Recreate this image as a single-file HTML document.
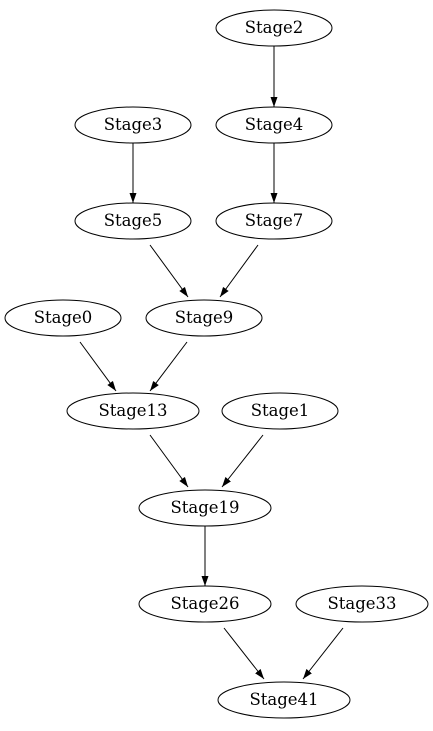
<!DOCTYPE html>
<html><head><meta charset="utf-8"><style>html,body{margin:0;padding:0;background:#fff;}svg{display:block}</style></head>
<body>
<svg width="433" height="731" viewBox="0 0 433 731" xmlns="http://www.w3.org/2000/svg">
<defs>
<marker id="a" markerWidth="10" markerHeight="7" refX="10" refY="3.5" orient="auto" markerUnits="userSpaceOnUse">
<polygon points="0,0 10,3.5 0,7" fill="#000"/>
</marker>
</defs>
<g fill="none" stroke="#000" stroke-width="1">
<ellipse cx="274" cy="28" rx="58" ry="18"/>
<ellipse cx="133" cy="125" rx="58" ry="18"/>
<ellipse cx="274" cy="125" rx="58" ry="18"/>
<ellipse cx="133" cy="221" rx="58" ry="18"/>
<ellipse cx="274" cy="221" rx="58" ry="18"/>
<ellipse cx="63" cy="318" rx="58" ry="18"/>
<ellipse cx="204" cy="318" rx="58" ry="18"/>
<ellipse cx="133" cy="411" rx="66" ry="18"/>
<ellipse cx="280" cy="411" rx="58" ry="18"/>
<ellipse cx="205" cy="508" rx="66" ry="18"/>
<ellipse cx="205" cy="604" rx="66" ry="18"/>
<ellipse cx="362" cy="604" rx="66" ry="18"/>
<ellipse cx="284" cy="700" rx="66" ry="18"/>
<g marker-end="url(#a)">
<line x1="274" y1="46" x2="274" y2="107"/>
<line x1="133" y1="143" x2="133" y2="203"/>
<line x1="274" y1="143" x2="274" y2="203"/>
<line x1="150" y1="245" x2="188" y2="297"/>
<line x1="258" y1="245" x2="220" y2="297"/>
<line x1="80" y1="342" x2="116" y2="391"/>
<line x1="187" y1="342" x2="150" y2="391"/>
<line x1="150" y1="435" x2="188" y2="487"/>
<line x1="263" y1="435" x2="222" y2="487"/>
<line x1="205" y1="526" x2="205" y2="586"/>
<line x1="224" y1="628" x2="264" y2="679"/>
<line x1="343" y1="628" x2="303" y2="679"/>
</g>
</g>
<g font-family="DejaVu Serif, serif" font-size="16.5" text-anchor="middle" fill="#000">
<text x="274" y="33">Stage2</text>
<text x="133" y="130">Stage3</text>
<text x="274" y="130">Stage4</text>
<text x="133" y="226">Stage5</text>
<text x="274" y="226">Stage7</text>
<text x="63" y="323">Stage0</text>
<text x="204" y="323">Stage9</text>
<text x="133" y="416">Stage13</text>
<text x="280" y="416">Stage1</text>
<text x="205" y="513">Stage19</text>
<text x="205" y="609">Stage26</text>
<text x="362" y="609">Stage33</text>
<text x="284" y="705">Stage41</text>
</g>
</svg>
</body></html>
